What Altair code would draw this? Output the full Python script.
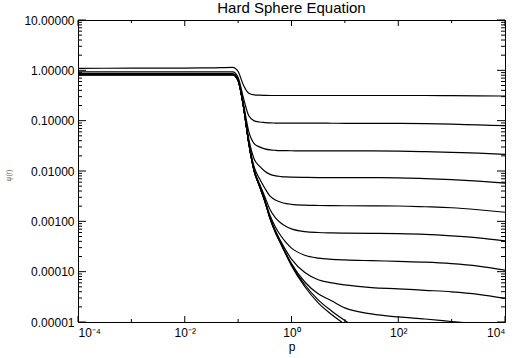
import altair as alt
import pandas as pd

# log10(p) sample positions
LOGP = [-4, -3, -2, -1.5, -1.1, -1.0, -0.9, -0.8, -0.7, -0.6, -0.5, -0.4, -0.3,
        -0.2, -0.1, 0, 0.25, 0.5, 0.75, 1.0, 1.5, 2, 2.5, 3, 3.5, 4]

# log10(value) for each curve
C1 = [0.04, 0.042, 0.045, 0.05, 0.06, -0.024, -0.295, -0.454, -0.486, -0.493, -0.497, -0.5, -0.5,
      -0.5, -0.5, -0.5, -0.5, -0.5, -0.5, -0.5, -0.5, -0.5, -0.5, -0.503, -0.506, -0.51]
C2 = [-0.03, -0.03, -0.03, -0.03, -0.03, -0.142, -0.553, -0.904, -1.004, -1.026, -1.037, -1.045, -1.047,
      -1.05, -1.05, -1.05, -1.05, -1.05, -1.051, -1.052, -1.053, -1.055, -1.06, -1.07, -1.085, -1.10]
C3 = [-0.065, -0.065, -0.065, -0.065, -0.065, -0.183, -0.666, -1.217, -1.454, -1.521, -1.559, -1.581, -1.589,
      -1.594, -1.597, -1.598, -1.6, -1.6, -1.6, -1.6, -1.601, -1.605, -1.615, -1.63, -1.645, -1.67]
C4 = [-0.075, -0.075, -0.075, -0.075, -0.075, -0.195, -0.703, -1.368, -1.76, -1.905, -2.003, -2.068, -2.096,
      -2.11, -2.118, -2.122, -2.127, -2.13, -2.13, -2.13, -2.132, -2.135, -2.15, -2.17, -2.2, -2.24]
C5 = [-0.08, -0.08, -0.08, -0.08, -0.08, -0.2, -0.716, -1.426, -1.92, -2.151, -2.342, -2.5, -2.578,
      -2.62, -2.647, -2.662, -2.679, -2.685, -2.688, -2.69, -2.692, -2.695, -2.71, -2.73, -2.77, -2.82]
C6 = [-0.08, -0.08, -0.08, -0.08, -0.08, -0.2, -0.72, -1.443, -1.976, -2.253, -2.51, -2.77, -2.93,
      -3.032, -3.102, -3.15, -3.204, -3.222, -3.229, -3.233, -3.238, -3.245, -3.26, -3.29, -3.33, -3.39]
C7 = [-0.085, -0.085, -0.085, -0.085, -0.085, -0.2, -0.72, -1.45, -1.993, -2.286, -2.572, -2.89, -3.117,
      -3.286, -3.424, -3.532, -3.673, -3.73, -3.754, -3.767, -3.782, -3.795, -3.81, -3.84, -3.89, -3.97]
C8 = [-0.085, -0.085, -0.085, -0.085, -0.085, -0.2, -0.72, -1.45, -2.0, -2.296, -2.592, -2.932, -3.189,
      -3.397, -3.587, -3.75, -4.018, -4.16, -4.223, -4.262, -4.316, -4.34, -4.37, -4.40, -4.45, -4.53]
C9 = [-0.09, -0.09, -0.09, -0.09, -0.09, -0.2, -0.72, -1.45, -2.0, -2.3, -2.6, -2.95, -3.22,
      -3.435, -3.646, -3.841, -4.205, -4.44, -4.578, -4.72, -4.84, -4.90, -4.94, -4.99, -5.04, -5.1]
C10 = [-0.09, -0.09, -0.09, -0.09, -0.09, -0.2, -0.72, -1.45, -2.0, -2.3, -2.6, -2.95, -3.22,
       -3.45, -3.67, -3.88, -4.3, -4.62, -4.85, -5.05, -5.5, None, None, None, None, None]
C11 = [-0.08, -0.08, -0.08, -0.08, -0.08, -0.2, -0.72, -1.45, -2.0, -2.3, -2.6, -2.95, -3.22,
       -3.44, -3.655, -3.86, -4.26, -4.56, -4.78, -4.97, -5.3, None, None, None, None, None]
CURVES = [C1, C2, C3, C4, C5, C6, C7, C8, C9, C10, C11]

X_MAJOR = [1e-4, 1e-2, 1, 1e2, 1e4]
X_MINOR = [1e-3, 1e-1, 1e1, 1e3]
X_LABELS = ["10⁻⁴", "10⁻³", "10⁻²", "10⁻¹", "10⁰", "10¹", "10²", "10³", "10⁴"]
Y_MAJOR = [1e-5, 1e-4, 1e-3, 1e-2, 1e-1, 1, 10]
Y_MINOR = [k * d for d in [1e-5, 1e-4, 1e-3, 1e-2, 1e-1, 1] for k in range(2, 10)]

W, H = 427, 302
FONT = "Liberation Sans"

rows = []
for ci, vals in enumerate(CURVES):
    for i, (lp, lv) in enumerate(zip(LOGP, vals)):
        if lv is None:
            continue
        rows.append({"p": 10 ** lp, "v": 10 ** lv, "curve": f"c{ci+1}", "ord": i})
df = pd.DataFrame(rows)

xscale = alt.Scale(type="log", domain=[1e-4, 1e4], nice=False)
yscale = alt.Scale(type="log", domain=[1e-5, 10], nice=False)

label_expr_x = "[" + ",".join(f"'{s}'" for s in X_LABELS) + "][round(log(datum.value)/LN10)+4]"

lines = alt.Chart(df).mark_line(clip=True, color="black", strokeWidth=1.2, interpolate="monotone").encode(
    x=alt.X("p:Q", scale=xscale, axis=alt.Axis(values=X_MAJOR, labelExpr=label_expr_x, ticks=False,
                                               domain=False, grid=False, labelFontSize=12, labelPadding=5,
                                               labelColor="black", title="p", titleFontSize=12,
                                               titleFontWeight="normal", titleColor="black", titlePadding=3)),
    y=alt.Y("v:Q", scale=yscale, axis=alt.Axis(values=Y_MAJOR, labelExpr="format(datum.value, '.5f')",
                                               ticks=False, domain=False, grid=False, labelFontSize=12,
                                               labelPadding=4, labelColor="black", title="ψ(r)",
                                               titleFontSize=7, titleFontWeight="normal", titleColor="#555",
                                               titleX=-70, titleY=155, titleBaseline="middle")),
    detail="curve:N",
    order="ord:Q",
)

xmaj = pd.DataFrame({"x": X_MAJOR})
xmin = pd.DataFrame({"x": X_MINOR})
ymaj = pd.DataFrame({"y": Y_MAJOR})
ymin = pd.DataFrame({"y": Y_MINOR})

def xticks(d, length):
    base = alt.Chart(d).mark_rule(color="black", strokeWidth=1)
    bot = base.encode(x=alt.X("x:Q", scale=xscale, axis=None), y=alt.value(H), y2=alt.value(H - length))
    top = base.encode(x=alt.X("x:Q", scale=xscale, axis=None), y=alt.value(0), y2=alt.value(length))
    return [bot, top]

def yticks(d, length):
    base = alt.Chart(d).mark_rule(color="black", strokeWidth=1)
    left = base.encode(y=alt.Y("y:Q", scale=yscale, axis=None), x=alt.value(0), x2=alt.value(length))
    right = base.encode(y=alt.Y("y:Q", scale=yscale, axis=None), x=alt.value(W), x2=alt.value(W - length))
    return [left, right]

layers = [lines] + xticks(xmaj, 6) + xticks(xmin, 3) + yticks(ymaj, 8) + yticks(ymin, 4)

chart = alt.layer(*layers).resolve_axis(x="independent", y="independent").properties(
    width=W, height=H,
    title=alt.TitleParams("Hard Sphere Equation", fontSize=15, font=FONT, fontWeight="normal",
                          anchor="middle", color="black", offset=-2),
    autosize=alt.AutoSizeParams(type="none"),
    padding={"left": 78, "top": 20, "right": 8, "bottom": 36},
).configure(font=FONT).configure_view(stroke="black", strokeWidth=1).configure_axis(labelFont=FONT, titleFont=FONT)

chart.save("out.html", embed_options={"renderer": "svg", "actions": False})
